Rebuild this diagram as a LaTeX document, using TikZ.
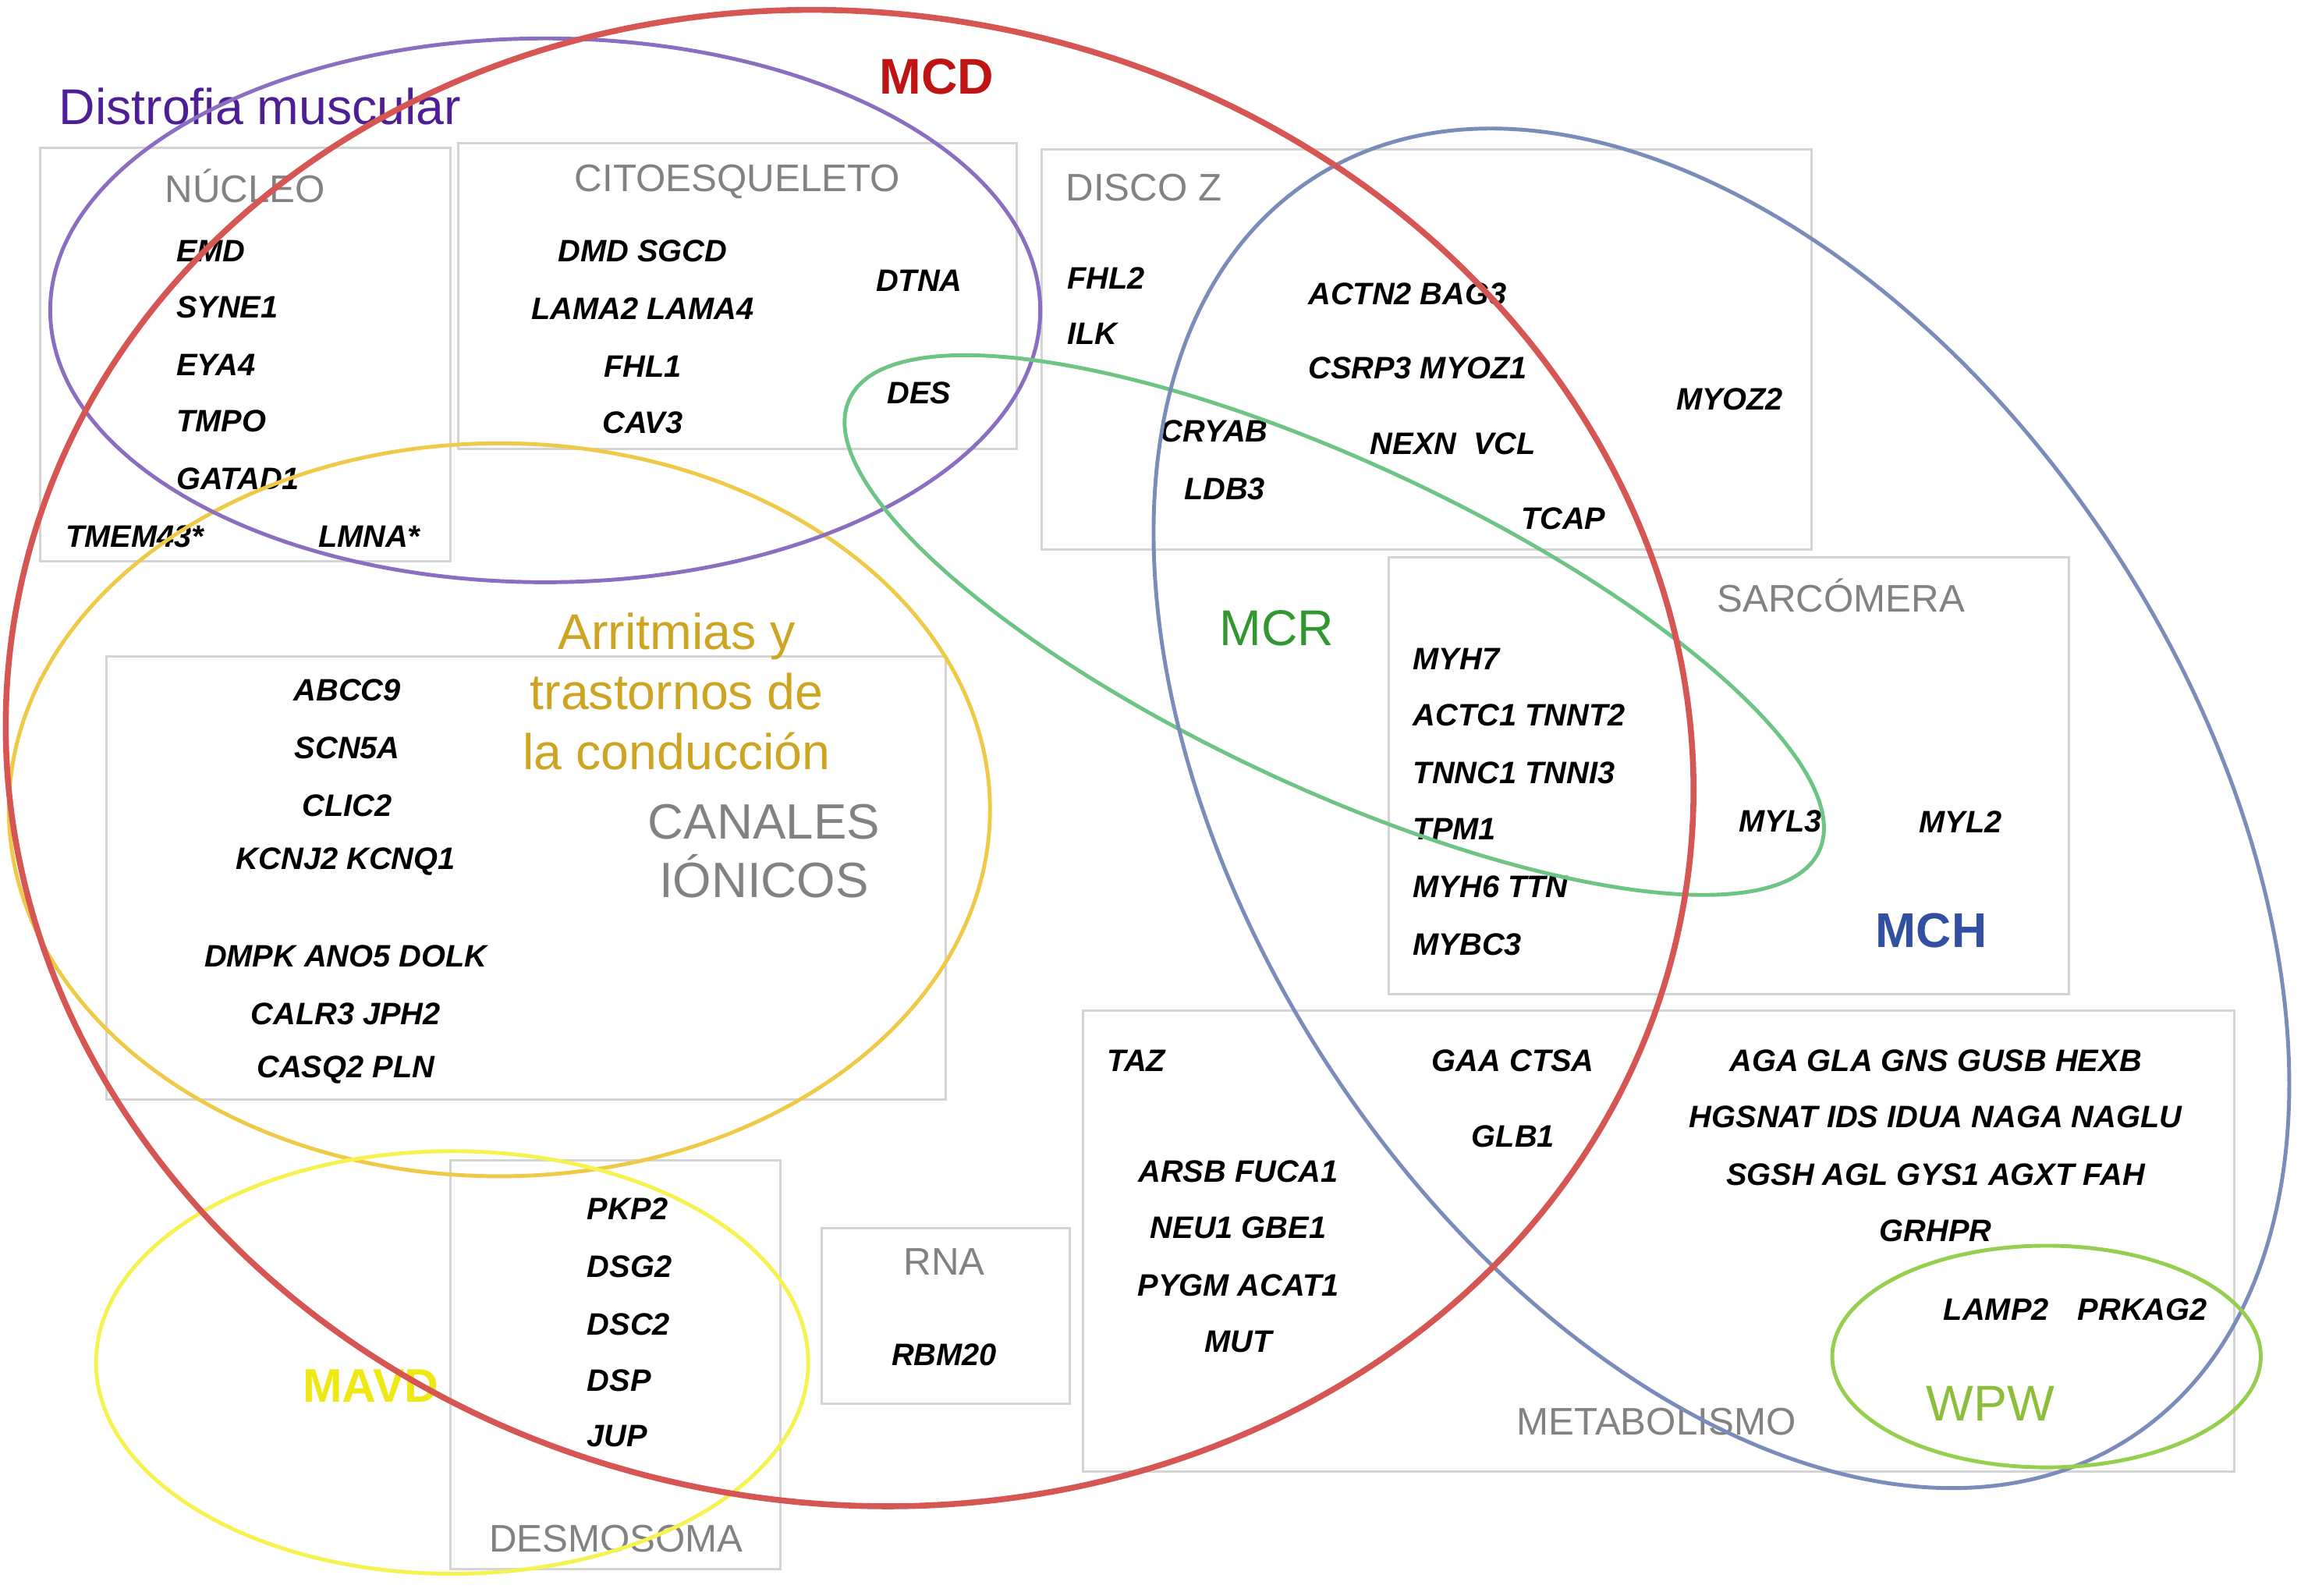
\documentclass[tikz,border=0pt]{standalone}
\usepackage{fontspec}
\setmainfont{Liberation Sans}
\definecolor{cred}{RGB}{214,86,84}
\definecolor{cpurple}{RGB}{140,110,192}
\definecolor{tpurple}{RGB}{78,30,150}
\definecolor{cgold}{RGB}{238,202,72}
\definecolor{tgold}{RGB}{205,165,35}
\definecolor{cyel}{RGB}{246,242,80}
\definecolor{tyel}{RGB}{238,232,20}
\definecolor{cgreen}{RGB}{110,196,132}
\definecolor{tgreen}{RGB}{50,150,50}
\definecolor{cblue}{RGB}{122,140,186}
\definecolor{tblue}{RGB}{50,80,160}
\definecolor{cwpw}{RGB}{150,206,80}
\definecolor{twpw}{RGB}{140,190,60}
\definecolor{tred}{RGB}{190,20,20}
\definecolor{boxgray}{RGB}{212,212,212}
\definecolor{labgray}{RGB}{130,130,130}
\begin{document}
\begin{tikzpicture}[x=0.5pt,y=-0.5pt,
  gene/.style={font=\fontsize{10.5}{12}\selectfont\bfseries\itshape, inner sep=0pt},
  boxlab/.style={font=\fontsize{13}{15}\selectfont, text=labgray, inner sep=0pt},
  big/.style={font=\fontsize{17}{20}\selectfont, inner sep=0pt},
  cbox/.style={draw=boxgray, line width=0.75pt},
  ring/.style={line width=1.3pt}]
\useasboundingbox (0,0) rectangle (1562,1080);

% boxes
\draw[cbox] (27,100) rectangle (305,380);
\draw[cbox] (310,97) rectangle (688,304);
\draw[cbox] (705,101) rectangle (1226,372);
\draw[cbox] (940,377) rectangle (1400,673);
\draw[cbox] (72,444) rectangle (640,744);
\draw[cbox] (305,785) rectangle (528,1062);
\draw[cbox] (556,831) rectangle (724,950);
\draw[cbox] (733,684) rectangle (1512,996);

% titles
\node[big, text=tpurple] (tdis) at (176,72) {Distrofia muscular};
\node[big, text=tred, font=\fontsize{17}{20}\selectfont\bfseries] (tmcd) at (634,52) {MCD};
\node[big, text=tgold, align=center, font=\fontsize{17}{20.3}\selectfont] (tarr) at (458,468) {Arritmias y\\trastornos de\\la conducción};
\node[big, text=tgreen] (tmcr) at (864,425) {MCR};
\node[big, text=tblue, font=\fontsize{16.5}{20}\selectfont\bfseries] (tmch) at (1307,630) {MCH};
\node[big, text=tyel, font=\fontsize{16}{20}\selectfont\bfseries] (tmavd) at (251,938) {MAVD};
\node[big, text=twpw] (twpwl) at (1347,950) {WPW};

% box labels
\node[boxlab] (lnuc) at (166,126) {NÚCLEO};
\node[boxlab] (lcit) at (499,123) {CITOESQUELETO};
\node[boxlab, anchor=west] (ldis) at (721,127) {DISCO Z};
\node[boxlab] (lsar) at (1246,403) {SARCÓMERA};
\node[boxlab, text=labgray, align=center, font=\fontsize{16.8}{19.8}\selectfont] (lcan) at (517,576) {CANALES\\IÓNICOS};
\node[boxlab] (ldes) at (417,1041) {DESMOSOMA};
\node[boxlab] (lrna) at (639,854) {RNA};
\node[boxlab] (lmet) at (1121,962) {METABOLISMO};

% nucleo genes
\node[gene, anchor=west] (g1) at (119,170) {EMD};
\node[gene, anchor=west] (g2) at (119,208) {SYNE1};
\node[gene, anchor=west] (g3) at (119,247) {EYA4};
\node[gene, anchor=west] (g4) at (119,285) {TMPO};
\node[gene, anchor=west] (g5) at (119,324) {GATAD1};
\node[gene, anchor=west] (g6) at (44,363) {TMEM43*};
\node[gene, anchor=west] (g7) at (215,363) {LMNA*};

% citoesqueleto genes
\node[gene] (g8) at (435,170) {DMD SGCD};
\node[gene] (g9) at (435,209) {LAMA2 LAMA4};
\node[gene] (g10) at (435,248) {FHL1};
\node[gene] (g11) at (435,286) {CAV3};
\node[gene] (g12) at (622,190) {DTNA};
\node[gene] (g13) at (622,266) {DES};

% disco Z genes
\node[gene, anchor=west] (g14) at (722,188) {FHL2};
\node[gene, anchor=west] (g15) at (722,226) {ILK};
\node[gene, anchor=west] (g16) at (885,199) {ACTN2 BAG3};
\node[gene, anchor=west] (g17) at (885,249) {CSRP3 MYOZ1};
\node[gene, anchor=west] (g18) at (927,300) {NEXN\ \ VCL};
\node[gene, anchor=west] (g19) at (785,292) {CRYAB};
\node[gene, anchor=west] (g20) at (801,331) {LDB3};
\node[gene, anchor=west] (g21) at (1029,351) {TCAP};
\node[gene, anchor=west] (g22) at (1134,270) {MYOZ2};

% sarcomera genes
\node[gene, anchor=west] (g23) at (956,446) {MYH7};
\node[gene, anchor=west] (g24) at (956,484) {ACTC1 TNNT2};
\node[gene, anchor=west] (g25) at (956,523) {TNNC1 TNNI3};
\node[gene, anchor=west] (g26) at (956,561) {TPM1};
\node[gene, anchor=west] (g27) at (956,600) {MYH6 TTN};
\node[gene, anchor=west] (g28) at (956,639) {MYBC3};
\node[gene] (g29) at (1205,556) {MYL3};
\node[gene] (g30) at (1327,556) {MYL2};

% canales genes
\node[gene] (g31) at (235,467) {ABCC9};
\node[gene] (g32) at (235,506) {SCN5A};
\node[gene] (g33) at (235,545) {CLIC2};
\node[gene] (g34) at (234,583) {KCNJ2 KCNQ1};
\node[gene] (g35) at (234,647) {DMPK ANO5 DOLK};
\node[gene] (g36) at (234,686) {CALR3 JPH2};
\node[gene] (g37) at (234,724) {CASQ2 PLN};

% desmosoma genes
\node[gene, anchor=west] (g38) at (397,818) {PKP2};
\node[gene, anchor=west] (g39) at (397,857) {DSG2};
\node[gene, anchor=west] (g40) at (397,896) {DSC2};
\node[gene, anchor=west] (g41) at (397,934) {DSP};
\node[gene, anchor=west] (g42) at (397,972) {JUP};

% RNA
\node[gene] (g43) at (639,917) {RBM20};

% metabolismo genes
\node[gene, anchor=west] (g44) at (749,718) {TAZ};
\node[gene] (g45) at (838,793) {ARSB FUCA1};
\node[gene] (g46) at (838,831) {NEU1 GBE1};
\node[gene] (g47) at (838,870) {PYGM ACAT1};
\node[gene] (g48) at (838,908) {MUT};
\node[gene] (g49) at (1024,718) {GAA CTSA};
\node[gene] (g50) at (1024,769) {GLB1};
\node[gene] (g51) at (1310,718) {AGA GLA GNS GUSB HEXB};
\node[gene] (g52) at (1310,756) {HGSNAT IDS IDUA NAGA NAGLU};
\node[gene] (g53) at (1310,795) {SGSH AGL GYS1 AGXT FAH};
\node[gene] (g54) at (1310,833) {GRHPR};
\node[gene] (g55) at (1351,886) {LAMP2};
\node[gene] (g56) at (1450,886) {PRKAG2};

% ellipses
\draw[ring, cgold] (338,548) ellipse [x radius=332, y radius=248];
\draw[ring, cyel] (306,922) ellipse [x radius=241, y radius=143];
\draw[ring, cpurple] (369,210) ellipse [x radius=335, y radius=184];
\draw[ring, cgreen, rotate around={-25:(903,423)}] (903,423) ellipse [x radius=362, y radius=110];
\draw[ring, cblue, rotate around={-57:(1165,547)}] (1165,547) ellipse [x radius=508, y radius=318];
\draw[ring, cwpw] (1385,918) ellipse [x radius=145, y radius=75];
\draw[line width=2pt, cred, rotate around={-10:(575,513)}] (575,513) ellipse [x radius=573, y radius=504];
\end{tikzpicture}
\end{document}
